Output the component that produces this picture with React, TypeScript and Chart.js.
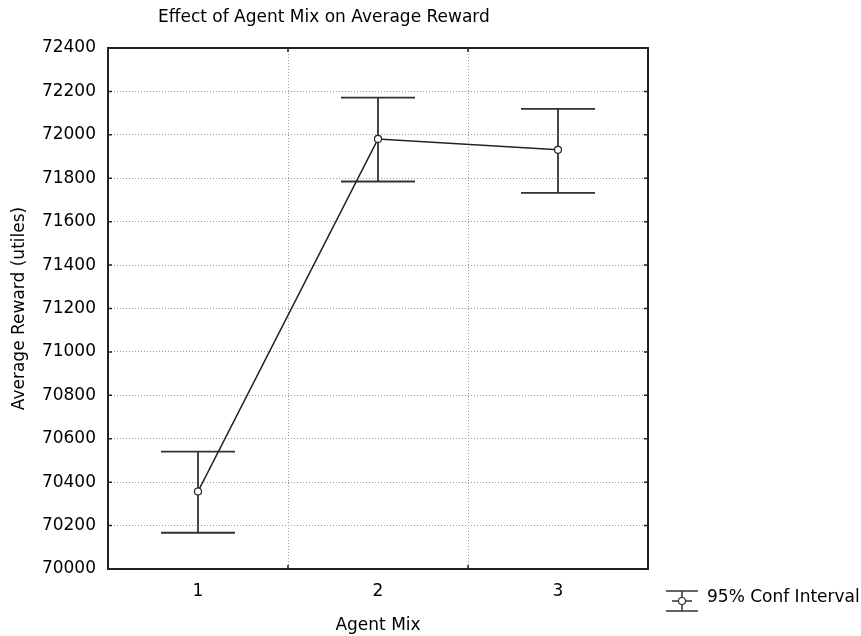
import { useEffect, useRef } from 'react';
import { Chart, registerables } from 'chart.js';

Chart.register(...registerables);

const categories = ['1', '2', '3'];
const means = [70357, 71981, 71931];
const lowerCI = [70167, 71785, 71733];
const upperCI = [70541, 72171, 72120];
const yTickValues = [70000, 70200, 70400, 70600, 70800, 71000, 71200, 71400, 71600, 71800, 72000, 72200, 72400];
const titleText = 'Effect of Agent Mix on Average Reward';
const xTitleText = 'Agent Mix';
const yTitleText = 'Average Reward (utiles)';
const legendLabel = '95% Conf Interval';

const FONT = 'DejaVu Sans';
const INK = '#222';

export default function App() {
  const ref = useRef<HTMLCanvasElement | null>(null);

  useEffect(() => {
    if (!ref.current) return;

    const decor = {
      id: 'decor',
      beforeDatasetsDraw(chart: any) {
        const { ctx } = chart;
        const xs = chart.scales.x;
        const ys = chart.scales.y;
        ctx.save();
        ctx.strokeStyle = '#333';
        ctx.lineWidth = 1.8;
        const half = 37;
        for (let i = 0; i < categories.length; i++) {
          const x = xs.getPixelForValue(i);
          const yl = ys.getPixelForValue(lowerCI[i]);
          const yh = ys.getPixelForValue(upperCI[i]);
          ctx.beginPath();
          ctx.moveTo(x, yl);
          ctx.lineTo(x, yh);
          ctx.moveTo(x - half, yl);
          ctx.lineTo(x + half, yl);
          ctx.moveTo(x - half, yh);
          ctx.lineTo(x + half, yh);
          ctx.stroke();
        }
        ctx.restore();
      },
      afterDraw(chart: any) {
        const { ctx, chartArea } = chart;
        const { left, right, top, bottom } = chartArea;
        const xs = chart.scales.x;
        const ys = chart.scales.y;
        ctx.save();
        // frame
        ctx.strokeStyle = INK;
        ctx.lineWidth = 2;
        ctx.strokeRect(left, top, right - left, bottom - top);
        // inward ticks
        ctx.lineWidth = 1.5;
        ctx.beginPath();
        for (const v of yTickValues) {
          const y = ys.getPixelForValue(v);
          ctx.moveTo(left, y);
          ctx.lineTo(left + 4, y);
          ctx.moveTo(right, y);
          ctx.lineTo(right - 4, y);
        }
        for (let i = 0; i < categories.length - 1; i++) {
          const x = (xs.getPixelForValue(i) + xs.getPixelForValue(i + 1)) / 2;
          ctx.moveTo(x, top);
          ctx.lineTo(x, top + 4);
          ctx.moveTo(x, bottom);
          ctx.lineTo(x, bottom - 4);
        }
        ctx.stroke();
        // title
        ctx.fillStyle = '#000';
        ctx.font = `17px "${FONT}"`;
        ctx.textBaseline = 'middle';
        ctx.textAlign = 'left';
        ctx.fillText(titleText, 158, 18);
        // legend
        const lx = 682;
        const ly = 601;
        ctx.strokeStyle = '#333';
        ctx.lineWidth = 1.5;
        ctx.beginPath();
        ctx.moveTo(lx - 16, ly - 10);
        ctx.lineTo(lx + 16, ly - 10);
        ctx.moveTo(lx - 16, ly + 10);
        ctx.lineTo(lx + 16, ly + 10);
        ctx.moveTo(lx, ly - 10);
        ctx.lineTo(lx, ly + 10);
        ctx.moveTo(lx - 10, ly);
        ctx.lineTo(lx + 10, ly);
        ctx.stroke();
        ctx.beginPath();
        ctx.fillStyle = '#fff';
        ctx.lineWidth = 1.2;
        ctx.arc(lx, ly, 3.5, 0, Math.PI * 2);
        ctx.fill();
        ctx.stroke();
        ctx.fillStyle = '#000';
        ctx.fillText(legendLabel, 707, ly - 3);
        ctx.restore();
      },
    };

    const chart = new Chart(ref.current, {
      type: 'line',
      data: {
        labels: categories,
        datasets: [
          {
            label: legendLabel,
            data: means,
            borderColor: '#222',
            borderWidth: 1.6,
            pointRadius: 3.5,
            pointBackgroundColor: '#fff',
            pointBorderColor: '#222',
            pointBorderWidth: 1.2,
            tension: 0,
          },
        ],
      },
      options: {
        responsive: false,
        animation: false,
        devicePixelRatio: 1,
        layout: { padding: { top: 48, right: 213, left: 0, bottom: 0 } },
        plugins: {
          legend: { display: false },
          title: { display: false },
          tooltip: { enabled: false },
        },
        scales: {
          x: {
            type: 'category',
            offset: true,
            afterFit(scale: any) {
              scale.height = 67;
            },
            grid: {
              display: true,
              offset: true,
              color: '#9a9a9a',
              lineWidth: 1,
              drawTicks: false,
            },
            border: { display: false, dash: [1, 2] },
            ticks: {
              color: '#000',
              padding: 12,
              font: { family: FONT, size: 17 },
            },
            title: {
              display: true,
              text: xTitleText,
              color: '#000',
              padding: { top: 0, bottom: 0 },
              font: { family: FONT, size: 17 },
            },
          },
          y: {
            type: 'linear',
            min: 70000,
            max: 72400,
            afterFit(scale: any) {
              scale.width = 108;
            },
            afterBuildTicks(scale: any) {
              scale.ticks = yTickValues.map((v) => ({ value: v }));
            },
            grid: {
              display: true,
              color: '#9a9a9a',
              lineWidth: 1,
              drawTicks: false,
            },
            border: { display: false, dash: [1, 2] },
            ticks: {
              color: '#000',
              padding: 12,
              font: { family: FONT, size: 17 },
              callback: (v: any) => String(v),
            },
            title: {
              display: true,
              text: yTitleText,
              color: '#000',
              padding: { top: 9, bottom: 0 },
              font: { family: FONT, size: 17 },
            },
          },
        },
      },
      plugins: [decor],
    });

    return () => chart.destroy();
  }, []);

  return (
    <div style={{ position: 'absolute', left: 0, top: 0, width: 861, height: 636, background: '#fff' }}>
      <canvas ref={ref} width={861} height={636} style={{ display: 'block', width: 861, height: 636 }} />
    </div>
  );
}
